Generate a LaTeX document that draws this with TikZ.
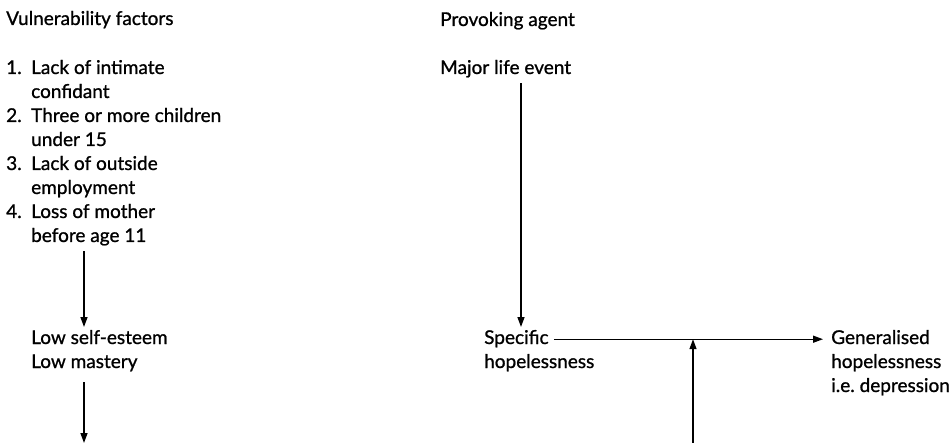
\documentclass[tikz,border=0pt]{standalone}
\usepackage{fontspec}
\setmainfont{Lato}[FakeBold=1]
\usetikzlibrary{arrows.meta,positioning}

\newcommand{\stack}[1]{\begin{tabular}[t]{@{}l@{}}#1\end{tabular}}

\begin{document}
\begin{tikzpicture}[x=1pt, y=-1pt,
    txt/.style = {anchor=base west, inner sep=0pt, font=\fontsize{19}{24}\selectfont, execute at begin node=\strut},
    arr/.style = {line width=1.4pt, -{Triangle[length=10pt, width=7pt]}}]

    \useasboundingbox (0, 0) rectangle (952, 443);

    % left column
    \node[txt] (vf) at (6, 25) {Vulnerability factors};
    \node[txt] (list) at (6, 74) {\begin{tabular}[t]{@{}p{25pt}@{}l@{}}
        1. & Lack of intimate\\ & confidant\\
        2. & Three or more children\\ & under 15\\
        3. & Lack of outside\\ & employment\\
        4. & Loss of mother\\ & before age 11
    \end{tabular}};
    \node[txt] (lse) at (31, 344) {\stack{Low self-esteem\\Low mastery}};

    % right column
    \node[txt] (pa) at (440, 26) {Provoking agent};
    \node[txt] (mle) at (440, 74) {Major life event};
    \node[txt] (spec) at (484, 344) {Specific};
    \node[txt] (hop) at (484, 368) {hopelessness};
    \node[txt] (gen) at (831, 344) {Generalised};
    \node[txt] (dep) at (831, 368) {\stack{hopelessness\\i.e.\ depression}};

    \coordinate (lx) at (84, 0);
    \coordinate (rx) at (521, 0);
    \coordinate (lend) at (84, 443);
    \coordinate (rstart) at (693, 443);

    \draw[arr, shorten <=2pt] (list.south -| lx) -- (lse.north -| lx);
    \draw[arr, shorten <=7pt] (lse.south -| lx) -- (lend);
    \draw[arr, shorten <=2pt] (mle.south -| rx) -- (spec.north -| rx);
    \draw[arr, shorten <=5pt, shorten >=8pt] (spec.east) -- (spec.east -| gen.west);
    \draw[arr] (rstart) -- (rstart |- spec.east);

\end{tikzpicture}
\end{document}
